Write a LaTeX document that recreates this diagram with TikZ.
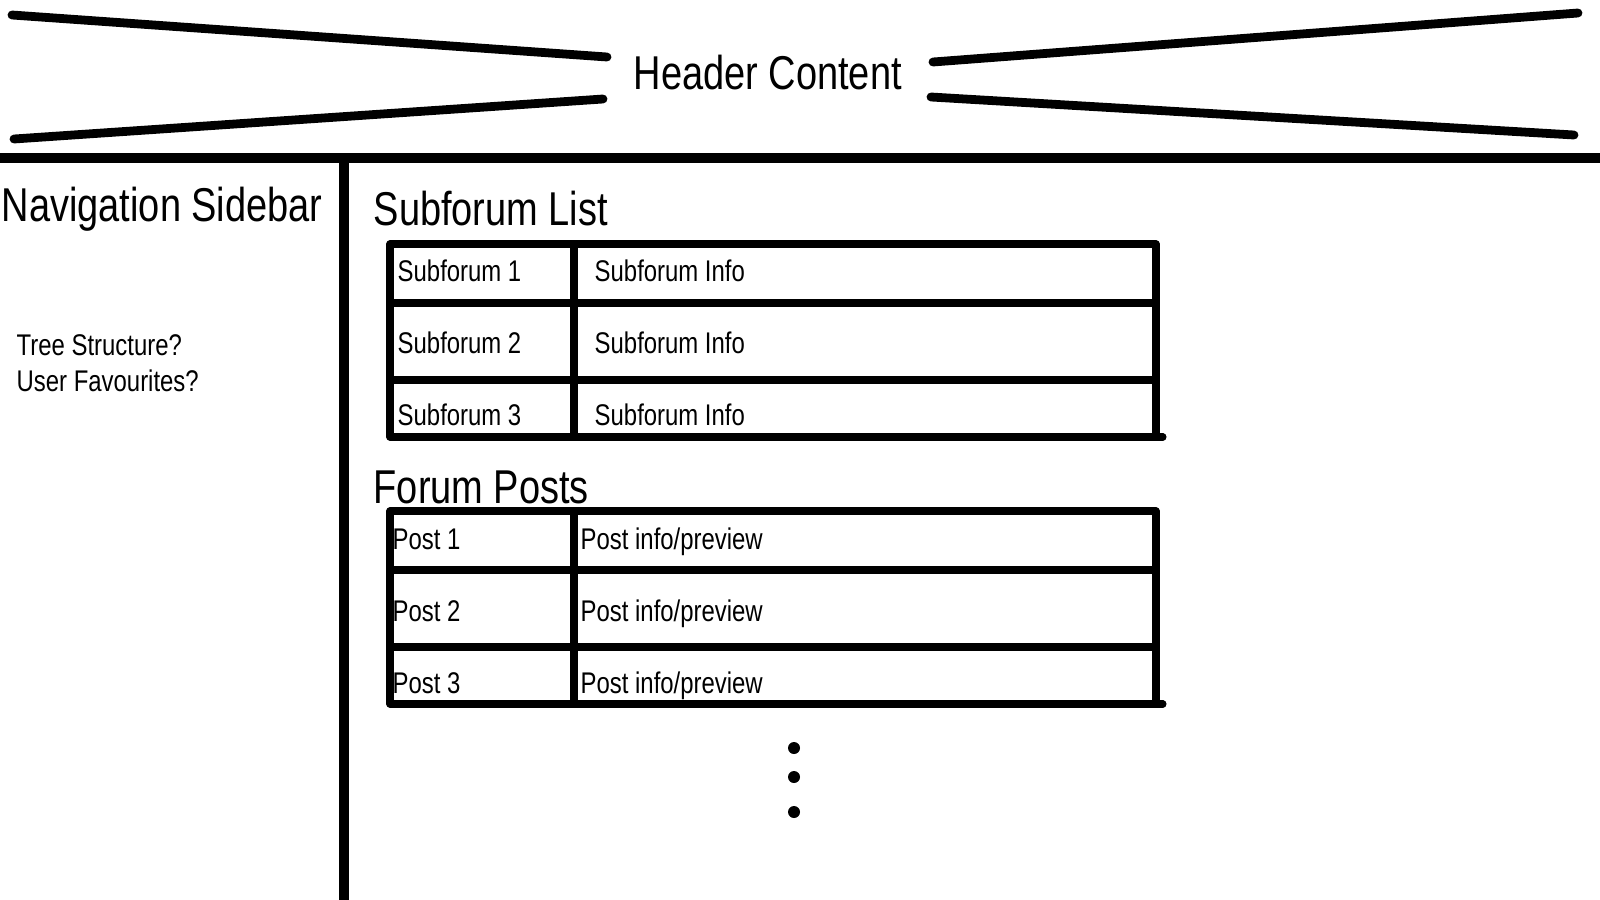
\documentclass[tikz,border=0pt]{standalone}
\usepackage{fontspec}
\setmainfont[FakeStretch=0.80]{Liberation Sans}
\usepackage{tikz}

\begin{document}
\begin{tikzpicture}[x=0.01cm,y=-0.01cm,line cap=round,line join=round,
        heavy line/.style={line width=2.5pt},
        rule line/.style={line width=2.8pt,line cap=butt},
        table line/.style={line width=2pt},
        big text/.style={anchor=base west,inner sep=0pt,font=\fontsize{13.5}{16}\selectfont},
        small text/.style={anchor=base west,inner sep=0pt,align=left,font=\fontsize{8.5}{10.25}\selectfont}]
    \useasboundingbox (0,0) rectangle (1600,900);

    % header
    \node[big text] (header) at (633,89) {Header Content};
    \draw[heavy line] (12,15) -- (607,57);
    \draw[heavy line] (14,139) -- (603,99);
    \draw[heavy line] (933,62) -- (1578,13);
    \draw[heavy line] (931,97) -- (1574,135);
    \draw[rule line] (0,158) -- (1600,158);
    \draw[rule line] (344,158) -- (344,900);

    % sidebar
    \node[big text] (nav) at (1,221) {Navigation Sidebar};
    \node[small text,anchor=north west] (navitems) at (16,334) {Tree Structure?\\User Favourites?};

    % main area
    \node[big text] (subforums) at (373,225) {Subforum List};
    \node[big text] (posts) at (373,503) {Forum Posts};

    \foreach \t in {0,267} {
        \draw[table line] (390,244+\t) rectangle (1156,437+\t);
        \draw[table line] (1156,437+\t) -- (1163,437+\t);
        \draw[table line] (390,303+\t) -- (1156,303+\t);
        \draw[table line] (390,380+\t) -- (1156,380+\t);
        \draw[table line] (574,244+\t) -- (574,437+\t);
    }

    \foreach \i/\y in {1/281,2/353,3/425} {
        \node[small text] (sub\i) at (397,\y) {Subforum \i};
        \node[small text] (subinfo\i) at (594,\y) {Subforum Info};
    }
    \foreach \i/\y in {1/549,2/621,3/693} {
        \node[small text] (post\i) at (392,\y) {Post \i};
        \node[small text] (preview\i) at (580,\y) {Post info/preview};
    }

    % more posts
    \foreach \y in {748,777,812}
        \fill (794,\y) circle (0.06cm);
\end{tikzpicture}
\end{document}
